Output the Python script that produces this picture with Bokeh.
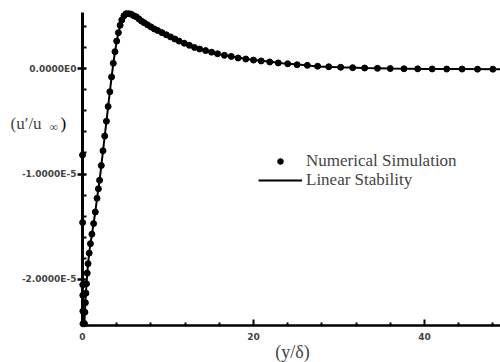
from bokeh.plotting import figure
from bokeh.models import Range1d, FixedTicker, Label, Legend, LegendItem
from bokeh.embed import file_html
from bokeh.resources import INLINE

# ---- data (u' in units of 1e-5) ----
line_y = [0, 0.005, 0.015, 0.03, 0.045, 0.07, 0.21, 0.27, 0.35, 0.47, 0.6, 0.78, 0.95,
          1.2, 1.5, 1.75, 2.0, 2.4, 2.8, 3.2, 3.6, 4.0, 4.4, 4.8, 5.2, 5.5, 6.0, 6.5, 7.1, 8.0,
          9.1, 10.5, 12, 13.5, 15, 16.6, 18.5, 20, 21.5, 23.4, 25.5, 27.5, 30, 33, 36, 40, 44, 48.9]
line_u = [0, -0.8, -1.45, -2.05, -2.3, -2.44, -2.44, -2.32, -2.2, -2.04, -1.9, -1.75, -1.65,
          -1.52, -1.36, -1.2, -1.06, -0.78, -0.5, -0.22, 0.05, 0.26, 0.41, 0.49, 0.52, 0.52, 0.5, 0.48,
          0.44, 0.40, 0.35, 0.29, 0.23, 0.19, 0.155, 0.125, 0.10, 0.08, 0.07, 0.05, 0.035, 0.02, 0.012,
          0.005, 0.0, -0.005, -0.005, -0.007]

sim_y = [0.005, 0.015, 0.03, 0.038, 0.045, 0.055,
         0.24, 0.28, 0.34, 0.40, 0.47, 0.55, 0.65, 0.78, 0.93, 1.1, 1.3, 1.5, 1.7, 1.86,
         2.0, 2.2, 2.4, 2.6, 2.8, 3.0, 3.2, 3.4, 3.6, 3.8, 4.0, 4.2, 4.4, 4.6, 4.85, 5.1, 5.4, 5.7,
         6.0, 6.3, 6.6, 6.9, 7.2, 7.6, 8.0, 8.4, 8.8, 9.3, 9.8, 10.3, 10.8, 11.3, 11.9, 12.5, 13.1,
         13.7, 14.4, 15.1, 15.8, 16.6, 17.4, 18.2, 19.1, 20.0, 20.9, 21.9, 22.9, 24.0, 25.1, 26.3,
         27.5, 28.8, 30.2, 31.6, 33.0, 34.5, 36.0, 37.6, 39.2, 40.9, 42.6, 44.4, 46.2, 48.0]
sim_u = [-0.82, -1.46, -2.05, -2.15, -2.3, -2.42,
         -2.42, -2.31, -2.22, -2.13, -2.04, -1.94, -1.85, -1.75, -1.66, -1.57, -1.47, -1.36, -1.23, -1.14,
         -1.06, -0.92, -0.78, -0.64, -0.50, -0.36, -0.22, -0.08, 0.05, 0.16, 0.26, 0.34, 0.41, 0.46,
         0.50, 0.52, 0.52, 0.515, 0.50, 0.49, 0.47, 0.45, 0.435, 0.415, 0.395, 0.375, 0.36, 0.34,
         0.32, 0.30, 0.28, 0.26, 0.24, 0.22, 0.20, 0.185, 0.17, 0.155, 0.14, 0.125, 0.115, 0.10,
         0.09, 0.08, 0.072, 0.062, 0.053, 0.045, 0.036, 0.03, 0.022, 0.017, 0.012, 0.008, 0.005,
         0.002, 0.0, -0.002, -0.003, -0.004, -0.005, -0.005, -0.006, -0.006]

x_major = [0, 20, 40]
x_minor = [4, 8, 12, 16, 24, 28, 32, 36, 44, 48]
y_major = [0, -1, -2]
y_minor = [0.4, 0.2, -0.2, -0.4, -0.6, -0.8, -1.2, -1.4, -1.6, -1.8, -2.2, -2.4]
y_tick_labels = {0: "0.0000E0", -1: "-1.0000E-5", -2: "-2.0000E-5"}

X_MIN, X_MAX = 0, 48.89
Y_MIN, Y_MAX = -2.436, 0.531

p = figure(width=500, height=362, output_backend="svg", toolbar_location=None,
           x_range=Range1d(-9.59, X_MAX), y_range=Range1d(-2.787, 0.645))
p.min_border = 0
p.min_border_left = 0
p.min_border_right = 0
p.min_border_top = 0
p.min_border_bottom = 0
p.outline_line_color = None
p.xgrid.visible = False
p.ygrid.visible = False
p.background_fill_color = "white"

ln = p.line(line_y, line_u, line_color="black", line_width=2)
sc = p.scatter(sim_y, sim_u, size=6, fill_color="black", line_color="black")

for ax in p.xaxis:
    ax.fixed_location = Y_MIN
    ax.bounds = (X_MIN, X_MAX)
    ax.ticker = FixedTicker(ticks=x_major, minor_ticks=x_minor)
    ax.axis_line_width = 2.5
    ax.major_tick_in = 6
    ax.major_tick_out = 0
    ax.minor_tick_in = 3
    ax.minor_tick_out = 0
    ax.major_tick_line_width = 2
    ax.minor_tick_line_width = 2
    ax.major_label_text_font = "DejaVu Sans"
    ax.major_label_text_font_style = "bold"
    ax.major_label_text_font_size = "9px"
    ax.major_label_standoff = 8

for ax in p.yaxis:
    ax.fixed_location = 0
    ax.bounds = (Y_MIN, Y_MAX)
    ax.ticker = FixedTicker(ticks=y_major, minor_ticks=y_minor)
    ax.axis_line_width = 3
    ax.major_tick_in = 4
    ax.major_tick_out = 5
    ax.minor_tick_in = 4
    ax.minor_tick_out = 0
    ax.major_tick_line_width = 2.5
    ax.minor_tick_line_width = 2
    ax.major_label_overrides = y_tick_labels
    ax.major_label_text_font = "DejaVu Sans"
    ax.major_label_text_font_style = "bold"
    ax.major_label_text_font_size = "9px"
    ax.major_label_standoff = 1

serif = "Liberation Serif"
p.add_layout(Label(x=-8.42, y=-0.52, text="(u\u2032/u", text_font=serif, text_font_size="17px",
                   text_baseline="middle", text_align="left"))
p.add_layout(Label(x=-8.42, y=-0.52, x_offset=39, y_offset=-4, text="\u221e", text_font=serif,
                   text_font_size="12px", text_baseline="middle", text_align="left"))
p.add_layout(Label(x=-8.42, y=-0.52, x_offset=50, text=")", text_font=serif, text_font_size="17px",
                   text_baseline="middle", text_align="left", text_color="black"))
p.add_layout(Label(x=24.56, y=-2.692, text="(y/\u03b4)", text_font=serif, text_font_size="18px",
                   text_baseline="middle", text_align="center"))

common = dict(glyph_width=44, glyph_height=14, label_height=14, spacing=0, padding=0, margin=0,
              label_standoff=4, label_text_font=serif, label_text_font_size="17px",
              border_line_color=None, background_fill_alpha=0)
leg1 = Legend(items=[LegendItem(label="Numerical Simulation", renderers=[sc])],
              location=(258, 191), **common)
leg2 = Legend(items=[LegendItem(label="Linear Stability", renderers=[ln])],
              location=(258, 172), **common)
p.add_layout(leg1)
p.add_layout(leg2)

open("out.html", "w").write(file_html(p, INLINE))
